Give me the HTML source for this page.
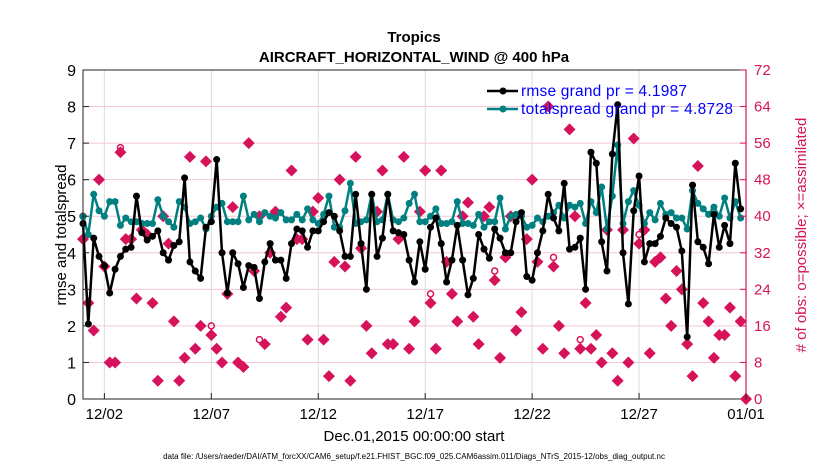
<!DOCTYPE html>
<html><head><meta charset="utf-8"><style>
html,body{margin:0;padding:0;background:#fff;}
svg{display:block;font-family:"Liberation Sans",sans-serif;}
</style></head><body>
<svg id="chart" width="830" height="470" viewBox="0 0 830 470" xmlns="http://www.w3.org/2000/svg">
<rect width="830" height="470" fill="#fff"/>
<text x="414" y="42" text-anchor="middle" font-size="15" font-weight="bold">Tropics</text>
<text x="414" y="62" text-anchor="middle" font-size="15" font-weight="bold">AIRCRAFT_HORIZONTAL_WIND @ 400 hPa</text>
<g id="grid"></g>
<g id="obs"></g>
<g id="lines"></g>
<rect x="83" y="70" width="663" height="329" fill="none" stroke="#222" stroke-width="1"/>
<line x1="746" y1="70" x2="746" y2="399" stroke="#d6135a" stroke-width="1.2"/>
<g id="axes"></g>
<text transform="translate(66,235) rotate(-90)" text-anchor="middle" font-size="15">rmse and totalspread</text>
<text transform="translate(806,235) rotate(-90)" text-anchor="middle" font-size="15" fill="#d6135a"># of obs: o=possible; ×=assimilated</text>
<text x="414" y="441" text-anchor="middle" font-size="15">Dec.01,2015 00:00:00 start</text>
<text x="414" y="459" text-anchor="middle" font-size="8">data file: /Users/raeder/DAI/ATM_forcXX/CAM6_setup/f.e21.FHIST_BGC.f09_025.CAM6assim.011/Diags_NTrS_2015-12/obs_diag_output.nc</text>
<g id="legend">
<line x1="487" y1="91" x2="518" y2="91" stroke="#000" stroke-width="2.5"/>
<circle cx="503" cy="91" r="3.5" fill="#000"/>
<text x="521" y="96" font-size="15.5" fill="#0000ff" textLength="166">rmse grand pr = 4.1987</text>
<line x1="487" y1="109" x2="518" y2="109" stroke="#008080" stroke-width="2.5"/>
<circle cx="503" cy="109" r="3.5" fill="#008080"/>
<text x="521" y="114" font-size="15.5" fill="#0000ff" textLength="212">totalspread grand pr = 4.8728</text>
</g>
</svg>
<script>
const rmse=[4.8,2.05,4.4,3.9,3.65,2.9,3.55,3.9,4.1,4.15,5.55,4.55,4.35,4.45,4.6,4.0,3.8,4.2,4.3,6.05,3.75,3.5,3.3,4.7,4.85,6.55,4.0,2.9,4.0,3.7,3.05,3.65,
3.6,2.75,3.75,4.25,3.8,3.8,3.3,4.25,4.65,4.6,4.15,4.6,4.6,4.85,5.1,5.0,4.6,3.9,3.9,5.6,4.25,3.0,5.6,3.9,4.4,5.6,4.6,4.55,4.5,3.8,3.2,4.3,
3.55,4.7,4.95,4.25,3.2,3.8,4.75,3.8,2.85,3.3,4.5,4.1,3.85,4.65,4.4,4.0,4.0,4.85,5.1,3.35,3.25,4.0,4.6,5.6,4.95,4.6,5.9,4.1,4.15,4.4,
3.0,6.75,6.45,4.3,3.5,6.7,8.05,4.0,2.6,5.15,6.1,3.75,4.25,4.25,4.45,4.95,4.8,4.7,4.05,1.7,5.85,4.3,4.15,3.7,5.05,4.15,4.75,4.25,6.45,5.2];
const spread=[4.99,4.5,5.6,5.15,5.0,5.4,5.4,4.75,4.95,4.85,4.85,4.8,4.8,4.8,5.45,5.0,4.85,4.7,5.4,5.25,4.8,4.85,4.95,4.65,5.0,5.25,5.35,4.85,4.85,4.85,5.55,4.9,
5.05,4.85,5.1,5.0,4.95,5.1,4.9,4.9,5.05,4.9,5.2,4.9,4.8,5.05,5.55,4.7,4.7,5.15,5.9,4.8,4.85,4.9,5.6,4.85,4.9,5.6,4.9,4.85,4.95,5.35,5.6,4.85,
4.85,5.0,5.2,4.8,4.8,4.85,5.4,4.8,4.8,4.75,5.05,4.7,4.85,4.85,5.5,4.65,5.0,5.05,5.0,4.7,4.75,4.95,4.85,5.0,5.1,5.3,4.95,5.3,5.25,5.35,
4.8,5.4,5.1,5.8,4.65,5.55,6.95,4.8,5.4,5.7,5.3,4.8,5.1,4.9,5.35,5.05,5.1,4.95,4.95,4.65,5.7,5.35,5.2,5.05,5.25,5.0,5.5,4.95,5.4,4.95];
const nobsUsed=[35,21,15,48,29,8,8,54,35,35,22,37,36,21,4,40,34,17,4,9,53,11,16,52,14,11,8,23,42,8,7,56,
28,40,12,32,41,18,20,50,35,35,13,41,44,13,5,30,48,29,4,53,33,16,10,41,50,12,12,35,53,11,17,41,
50,21,11,50,30,23,17,40,43,18,12,40,42,26,9,31,40,15,19,35,48,30,11,64,29,16,10,59,40,11,
21,11,14,8,37,10,4,37,8,57,34,37,10,30,31,22,16,28,24,12,5,51,21,17,9,14,14,20,5,17,0];
const possibleIdx=[0,7,24,33,65,77,88,93,104];
const nobsPossible=[40,55,16,13,23,28,31,13,36];
const xTickLabels=["12/02","12/07","12/12","12/17","12/22","12/27","01/01"];
const xTickDays=[1,6,11,16,21,26,31];
const yTicks=[0,1,2,3,4,5,6,7,8,9];
const y2Ticks=[0,8,16,24,32,40,48,56,64,72];

const NS="http://www.w3.org/2000/svg";
const X0=83,X1=746,Y0=399,Y1=70;
const xs=d=>X0+(d/31)*(X1-X0);
const ys=v=>Y0-(v/9)*(Y0-Y1);
const ys2=v=>Y0-(v/72)*(Y0-Y1);
const dayOf=i=>i*0.25;
function mk(tag,attrs,parent){const e=document.createElementNS(NS,tag);for(const k in attrs)e.setAttribute(k,attrs[k]);parent.appendChild(e);return e;}
const grid=document.getElementById('grid'),axes=document.getElementById('axes'),obs=document.getElementById('obs'),lines=document.getElementById('lines');

y2Ticks.forEach((t,i)=>{
  if(i>0&&i<y2Ticks.length-1){const g=mk('line',{x1:X0,x2:X1,y1:ys2(t),y2:ys2(t),stroke:'#f4c6d6','stroke-width':1},grid);
  
  }
  const tk=mk('line',{x1:X1-6,x2:X1,y1:ys2(t),y2:ys2(t),stroke:'#d6135a'},axes);
  
  
  const tx=mk('text',{x:X1+8,y:ys2(t)+5,'font-size':15,fill:'#d6135a'},axes);tx.textContent=t;
  
  
});
yTicks.forEach(t=>{
  const tk=mk('line',{x1:X0,x2:X0+6,y1:ys(t),y2:ys(t),stroke:'#222'},axes);
  
  
  const tx=mk('text',{x:X0-7,y:ys(t)+6,'font-size':16,'text-anchor':'end'},axes);tx.textContent=t;
  
  
});
xTickDays.forEach((d,i)=>{
  const x=xs(d);
  if(d<31){const g=mk('line',{x1:x,x2:x,y1:Y1,y2:Y0,stroke:'#dcdcdc','stroke-width':1},grid);
  
  }
  const tk=mk('line',{x1:x,x2:x,y1:Y0-6,y2:Y0,stroke:'#222'},axes);
  
  
  const tx=mk('text',{x:x,y:Y0+20,'font-size':15,'text-anchor':'middle'},axes);tx.textContent=xTickLabels[i];
  
  
});

function diamond(cx,cy,r){return `M${cx},${cy-r} L${cx+r},${cy} L${cx},${cy+r} L${cx-r},${cy} Z`;}
nobsUsed.forEach((v,i)=>{
  const p=mk('path',{d:diamond(xs(dayOf(i)),ys2(v),6),fill:'#d6135a'},obs);
  
  
});
possibleIdx.forEach((idx,k)=>{
  const c=mk('circle',{cx:xs(dayOf(idx)),cy:ys2(nobsPossible[k]),r:3,fill:'none',stroke:'#d6135a','stroke-width':1.5},obs);
  
  
});

function series(vals,color,name){
  const pts=vals.map((v,i)=>xs(dayOf(i)).toFixed(1)+','+ys(v).toFixed(1)).join(' ');
  const pl=mk('polyline',{points:pts,fill:'none',stroke:color,'stroke-width':2.5,'stroke-linejoin':'round'},lines);
  
  
  vals.forEach((v,i)=>{
    const c=mk('circle',{cx:xs(dayOf(i)),cy:ys(v),r:3.5,fill:color},lines);
    
    
  });
}
series(spread,'#008080','totalspread');
series(rmse,'#000000','rmse');
</script>
</body></html>
